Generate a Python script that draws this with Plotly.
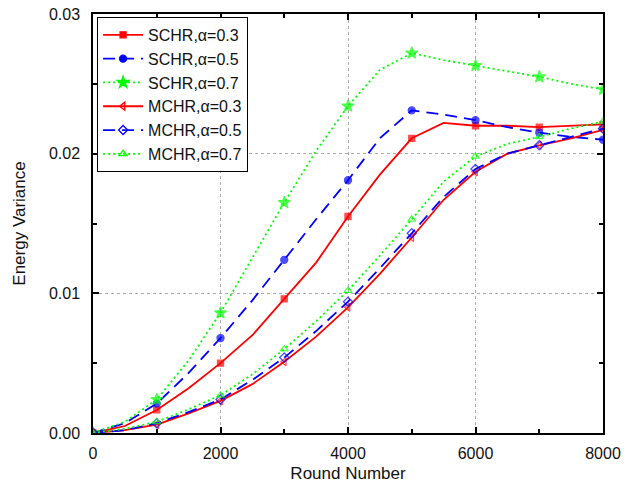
import plotly.graph_objects as go

rounds = [0, 500, 1000, 1500, 2000, 2500, 3000, 3500, 4000, 4500, 5000, 5500, 6000, 6500, 7000, 7500, 8000]

schr_03 = [0, 0.0005, 0.00165, 0.0032, 0.0050, 0.0070, 0.0096, 0.0122, 0.0155, 0.0185, 0.0211, 0.0222, 0.0220, 0.0220, 0.0219, 0.0220, 0.0221]
schr_05 = [0, 0.0007, 0.0021, 0.0043, 0.0068, 0.0095, 0.0124, 0.0153, 0.0181, 0.0211, 0.0231, 0.0228, 0.0224, 0.0219, 0.0215, 0.0212, 0.0210]
schr_07 = [0, 0.0008, 0.0024, 0.0052, 0.0086, 0.0125, 0.0165, 0.0202, 0.0234, 0.0260, 0.0272, 0.0267, 0.0263, 0.0259, 0.0255, 0.0250, 0.0246]
mchr_03 = [0, 0.0002, 0.0006, 0.0014, 0.0023, 0.0035, 0.0051, 0.0069, 0.0090, 0.0114, 0.0140, 0.0167, 0.0187, 0.0200, 0.0206, 0.0211, 0.0217]
mchr_05 = [0, 0.0002, 0.0007, 0.0015, 0.0024, 0.0038, 0.0054, 0.0073, 0.0094, 0.0118, 0.0143, 0.0169, 0.0189, 0.0200, 0.0206, 0.0212, 0.0218]
mchr_07 = [0, 0.0003, 0.0008, 0.0017, 0.0027, 0.0042, 0.0060, 0.0080, 0.0102, 0.0127, 0.0153, 0.0180, 0.0198, 0.0207, 0.0212, 0.0218, 0.0223]

names = ["SCHR,α=0.3", "SCHR,α=0.5", "SCHR,α=0.7", "MCHR,α=0.3", "MCHR,α=0.5", "MCHR,α=0.7"]
series = [schr_03, schr_05, schr_07, mchr_03, mchr_05, mchr_07]
colors = ["#ff0000", "#0000ff", "#00ff00", "#ff0000", "#0000ff", "#00ff00"]
dashes = ["solid", "12px,7px", "2px,3px", "solid", "12px,7px", "2px,3px"]
symbols = ["square", "circle", "star", "triangle-left-open", "diamond-open", "triangle-up-open"]
sizes = [6, 7, 9, 7, 7, 7]

x_ticks = [0, 2000, 4000, 6000, 8000]
y_ticks = [0, 0.01, 0.02, 0.03]
y_labels = ["0.00", "0.01", "0.02", "0.03"]

FONT = "Arial, Liberation Sans, sans-serif"

fig = go.Figure()
for name, ys, c, d, s, sz in zip(names, series, colors, dashes, symbols, sizes):
    msize = [sz if (r % 1000 == 0) else 0 for r in rounds]
    fig.add_trace(go.Scatter(
        x=rounds, y=ys, mode="lines+markers", name=name, showlegend=False,
        legendgroup=name, hoverinfo="skip",
        line=dict(color=c, width=1.8, dash=d),
        marker=dict(symbol=s, size=msize, color=c, line=dict(color=c, width=1.3)),
    ))
    fig.add_trace(go.Scatter(
        x=[None], y=[None], mode="lines+markers", name=name, legendgroup=name,
        line=dict(color=c, width=1.8, dash=d),
        marker=dict(symbol=s, size=sz, color=c, line=dict(color=c, width=1.3)),
    ))

axis_common = dict(
    showline=True, linecolor="black", linewidth=1.5, mirror="allticks",
    ticks="inside", ticklen=6, tickwidth=1.5, tickcolor="black",
    showgrid=True, gridcolor="#aaaaaa", gridwidth=1, griddash="3px,3px",
    zeroline=False, automargin=False, ticklabeloverflow="allow",
    tickfont=dict(family=FONT, size=16, color="#111"),
)

fig.update_xaxes(
    range=[0, 8000.001], tickvals=x_ticks,
    minor=dict(ticks="inside", ticklen=4, tickwidth=1.5, tickcolor="black", dtick=1000, showgrid=False),
    title=dict(text="Round Number", font=dict(family=FONT, size=17, color="#111"), standoff=6),
    ticklabelstandoff=5,
    **axis_common,
)
fig.update_yaxes(
    range=[0, 0.0300001], tickvals=y_ticks, ticktext=y_labels,
    minor=dict(ticks="inside", ticklen=4, tickwidth=1.5, tickcolor="black", dtick=0.005, showgrid=False),
    title=dict(text="Energy Variance", font=dict(family=FONT, size=17, color="#111"), standoff=19),
    ticklabelstandoff=8,
    **axis_common,
)

fig.update_layout(
    width=636, height=491,
    margin=dict(l=93, r=33, t=14, b=58),
    plot_bgcolor="white", paper_bgcolor="white",
    legend=dict(
        x=0.008, y=0.993, xanchor="left", yanchor="top",
        bgcolor="white", bordercolor="black", borderwidth=1,
        font=dict(family=FONT, size=16, color="#111"),
        tracegroupgap=0, itemwidth=40,
    ),
)

# remove the default 8px page margin so the figure fills the window exactly
fig.write_html("out.html", config={"displayModeBar": False},
               post_script="document.body.style.margin='0';")
